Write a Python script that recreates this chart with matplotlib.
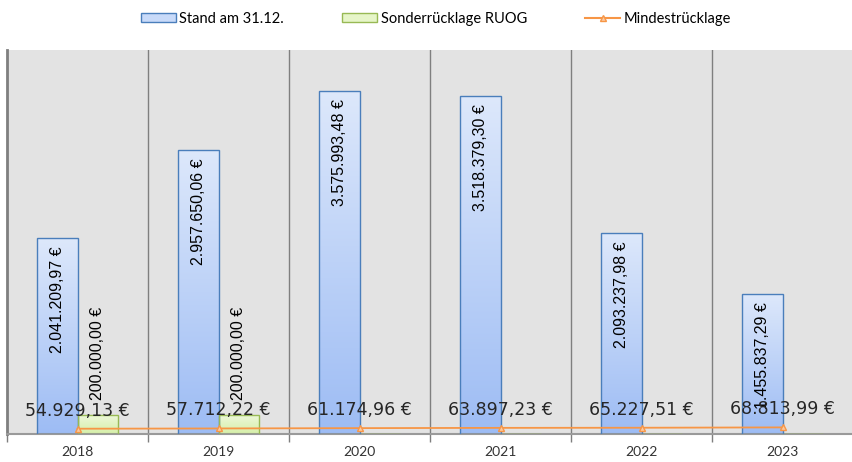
import numpy as np
import matplotlib.pyplot as plt
from matplotlib.lines import Line2D
from matplotlib.patches import Patch
from matplotlib.colors import LinearSegmentedColormap

years = ['2018', '2019', '2020', '2021', '2022', '2023']
stand = [2041209.97, 2957650.06, 3575993.48, 3518379.30, 2093237.98, 1455837.29]
sonder = [200000.00, 200000.00, 0, 0, 0, 0]
mindest = [54929.13, 57712.22, 61174.96, 63897.23, 65227.51, 68813.99]

BLUE_EDGE = '#4a7ebb'
GREEN_EDGE = '#98b954'
ORANGE = '#f79646'
BG = '#e3e3e3'
NARROW = ['Liberation Sans Narrow', 'Liberation Sans', 'DejaVu Sans']


def euro(v):
    s = f'{v:,.2f}'
    s = s.replace(',', 'X').replace('.', ',').replace('X', '.')
    return s + ' €'


fig = plt.figure(figsize=(8.53, 4.62), dpi=100)
ax = fig.add_axes([7 / 853, (462 - 434) / 462, 849 / 853, 384 / 462])
ax.set_facecolor(BG)

x = np.arange(len(years))
w = 0.285

grad = np.linspace(0, 1, 256).reshape(-1, 1)
cmap_blue = LinearSegmentedColormap.from_list('b', ['#9dbcf4', '#dde8fb'])
cmap_green = LinearSegmentedColormap.from_list('g', ['#d6efa8', '#eef8dc'])

blue_bars = ax.bar(x - w / 2, stand, width=w, color='none', edgecolor=BLUE_EDGE,
                   linewidth=1.0, zorder=3)
green_bars = ax.bar(x + w / 2, sonder, width=w, color='none', edgecolor=GREEN_EDGE,
                    linewidth=1.0, zorder=3)

# gradient fill, clipped to each bar
for bars, cm in ((blue_bars, cmap_blue), (green_bars, cmap_green)):
    for b in bars:
        if b.get_height() <= 0:
            continue
        x0, y0 = b.get_x(), b.get_y()
        im = ax.imshow(grad, cmap=cm, aspect='auto', origin='lower',
                       extent=[x0, x0 + b.get_width(), y0, y0 + b.get_height()],
                       zorder=2)
        im.set_clip_path(b)

ax.plot(x, mindest, color=ORANGE, linewidth=1.3, marker='^', markersize=5,
        markerfacecolor='#fbc9a0', markeredgecolor=ORANGE, zorder=4)

# value labels
for i, b in enumerate(blue_bars):
    ax.annotate(euro(stand[i]), (b.get_x() + b.get_width() / 2, stand[i]),
                xytext=(0, -6), textcoords='offset points', rotation=90,
                ha='center', va='top', fontsize=11.5, family=NARROW, zorder=5)
for i, b in enumerate(green_bars):
    if sonder[i] > 0:
        ax.annotate(euro(sonder[i]), (b.get_x() + b.get_width() / 2, sonder[i]),
                    xytext=(0, 11), textcoords='offset points', rotation=90,
                    ha='center', va='bottom', fontsize=11.5, family=NARROW,
                    zorder=5)
for i in range(len(years)):
    ax.annotate(euro(mindest[i]), (x[i], mindest[i]), xytext=(0, 13),
                textcoords='offset points', ha='center', va='center',
                fontsize=12.5, color='#262626', zorder=6)

ax.set_xlim(-0.5, 5.52)
ax.set_ylim(0, 4000000)

# category dividers
for d in np.arange(0.5, 5.5, 1.0):
    ax.axvline(d, color='#7f7f7f', linewidth=1.0, zorder=1)

ax.set_xticks(x)
ax.set_xticklabels(years, fontsize=10, family=['Lato', 'DejaVu Sans'],
                   color='#333333')
ax.tick_params(axis='x', length=0, pad=9)
ax.set_xticks(np.arange(-0.5, 6.0, 1.0), minor=True)
ax.tick_params(axis='x', which='minor', length=6, color='#7f7f7f', width=1.0)
ax.set_yticks([])

for side in ('top', 'right'):
    ax.spines[side].set_visible(False)
ax.spines['left'].set_color('#7f7f7f')
ax.spines['left'].set_linewidth(2.0)
ax.spines['bottom'].set_color('#9a9a9a')
ax.spines['bottom'].set_linewidth(1.5)

handles = [
    Patch(facecolor='#c8daf9', edgecolor=BLUE_EDGE, label='Stand am 31.12.'),
    Patch(facecolor='#e6f5c8', edgecolor=GREEN_EDGE, label='Sonderrücklage RUOG'),
    Line2D([0], [0], color=ORANGE, marker='^', markersize=4,
           markerfacecolor='#fbc9a0', label='Mindestrücklage'),
]
fig.legend(handles=handles, loc='center', bbox_to_anchor=(436 / 853, 1 - 19 / 462),
           ncol=3, frameon=False, handlelength=2.4, handleheight=0.55,
           handletextpad=0.25, columnspacing=4.0,
           prop={'family': ['Lato', 'DejaVu Sans'], 'size': 10.5})

fig.savefig('out.png', dpi=100)
